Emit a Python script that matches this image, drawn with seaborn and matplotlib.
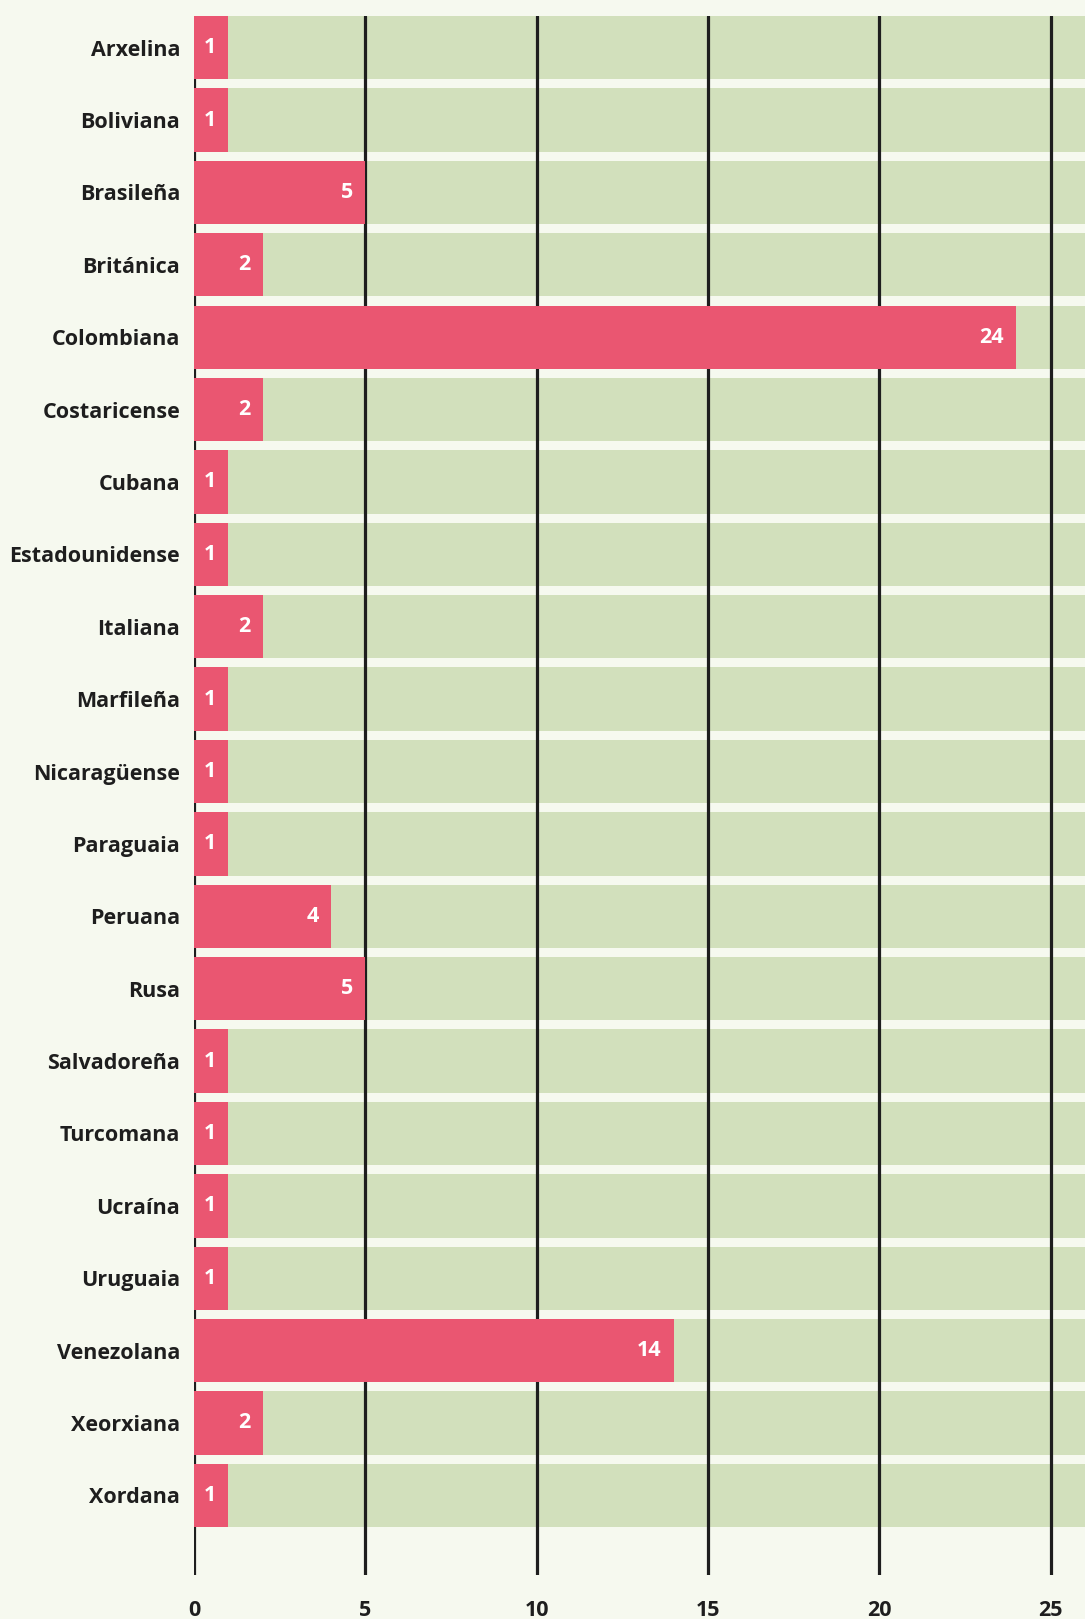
import matplotlib
matplotlib.use("Agg")
import matplotlib.pyplot as plt
import seaborn as sns
import pandas as pd

# data
nationalities = ["Arxelina", "Boliviana", "Brasileña", "Británica", "Colombiana",
                 "Costaricense", "Cubana", "Estadounidense", "Italiana", "Marfileña",
                 "Nicaragüense", "Paraguaia", "Peruana", "Rusa", "Salvadoreña",
                 "Turcomana", "Ucraína", "Uruguaia", "Venezolana", "Xeorxiana", "Xordana"]
counts = [1, 1, 5, 2, 24, 2, 1, 1, 2, 1, 1, 1, 4, 5, 1, 1, 1, 1, 14, 2, 1]
x_max = 26
x_ticks = [0, 5, 10, 15, 20, 25]

# colours
bg_col = "#F6F9EF"
track_col = "#D2E0BC"
bar_col = "#EA5671"
ink = "#1E1E1E"

df = pd.DataFrame({"nacionalidade": nationalities, "n": counts, "track": [x_max] * len(counts)})

sns.set_theme(style="white")
plt.rcParams["font.family"] = ["Open Sans", "DejaVu Sans"]

fig = plt.figure(figsize=(10.85, 16.19), dpi=100)
fig.patch.set_facecolor(bg_col)
ax = fig.add_axes([194 / 1085, 44 / 1619, 1 - 194 / 1085, (1575 - 16) / 1619])
ax.set_facecolor(bg_col)

# background track, then grid, then the real bars
sns.barplot(data=df, x="track", y="nacionalidade", color=track_col, width=0.875,
            saturation=1, orient="h", ax=ax, zorder=1)
sns.barplot(data=df, x="n", y="nacionalidade", color=bar_col, width=0.875,
            saturation=1, orient="h", ax=ax, zorder=2)
for p in ax.patches:
    p.set_edgecolor("none")

ax.set_axisbelow("line")
ax.xaxis.grid(True, color=ink, linewidth=2.3)
ax.yaxis.grid(False)

# value labels inside the bar ends
for i, v in enumerate(counts):
    ax.annotate(str(v), xy=(v, i), xytext=(-9, 0), textcoords="offset points",
                ha="right", va="center", color="white", fontsize=15.5, fontweight="bold",
                zorder=3)

ax.set_xlim(0, x_max)
ax.set_ylim(len(counts) - 1 + 1.1, -0.4375)
ax.set_xticks(x_ticks)
ax.set_xlabel("")
ax.set_ylabel("")
ax.tick_params(axis="x", length=0, pad=18, labelsize=15.5, labelcolor=ink)
ax.tick_params(axis="y", length=0, pad=10, labelsize=15.5, labelcolor=ink)
for lbl in ax.get_xticklabels() + ax.get_yticklabels():
    lbl.set_fontweight("bold")
sns.despine(ax=ax, left=True, bottom=True)

fig.savefig("out.png", dpi=100, facecolor=bg_col)
